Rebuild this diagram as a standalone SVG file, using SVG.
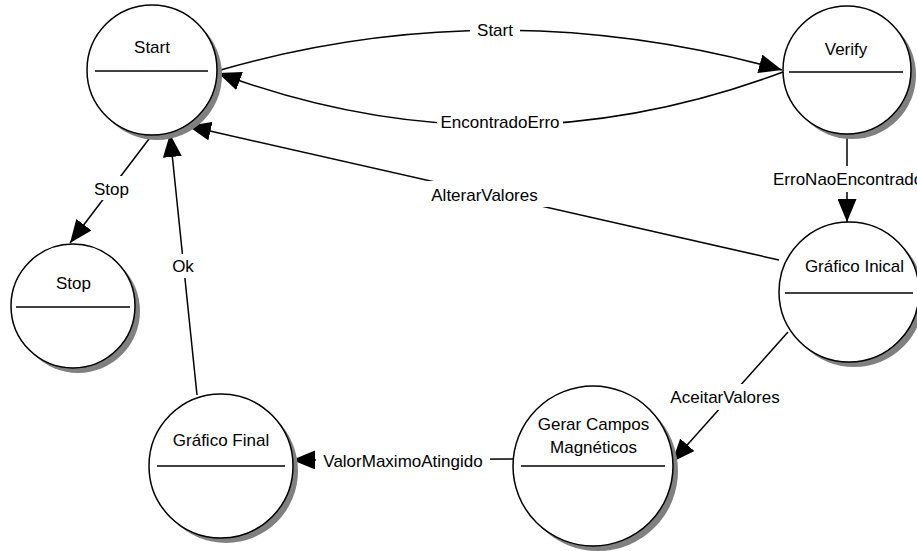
<svg xmlns="http://www.w3.org/2000/svg" width="917" height="551" viewBox="0 0 917 551">
<style>
text{font-family:"Liberation Sans",Arial,sans-serif;font-size:17px;fill:#000}
.c{text-anchor:middle}
.sh{fill:#808080;stroke:none}
.nd{fill:#fff;stroke:#000;stroke-width:1.5}
.dv{stroke:#000;stroke-width:1.5}
.ln{fill:none;stroke:#000;stroke-width:1.5}
.bg{fill:#fff;stroke:none}
</style>
<defs>
<marker id="ah" markerUnits="userSpaceOnUse" markerWidth="25" markerHeight="19" refX="23" refY="9.5" orient="auto">
<path d="M0,0 L23,9.5 L0,19 z" fill="#000"/>
</marker>
</defs>
<rect width="917" height="551" fill="#fff"/>
<g id="connectors">
<path class="ln" d="M217,71 Q495,-10 782,70" marker-end="url(#ah)"/>
<path class="ln" d="M783,72 Q500,178 218,73" marker-end="url(#ah)"/>
<path class="ln" d="M847,134 L847,222" marker-end="url(#ah)"/>
<path class="ln" d="M779,260 L188,126" marker-end="url(#ah)"/>
<path class="ln" d="M152,135 L70,243" marker-end="url(#ah)"/>
<path class="ln" d="M197,395 L170,134" marker-end="url(#ah)"/>
<path class="ln" d="M788,332 L672,462" marker-end="url(#ah)"/>
<path class="ln" d="M513,459 L292,460" marker-end="url(#ah)"/>
<rect class="bg" x="470" y="19" width="50" height="22"/>
<text class="c" x="495" y="36">Start</text>
<rect class="bg" x="437" y="112" width="126" height="22"/>
<text class="c" x="500" y="128">EncontradoErro</text>
<rect class="bg" x="422" y="181" width="126" height="26"/>
<text class="c" x="484.5" y="201">AlterarValores</text>
<rect class="bg" x="768" y="166" width="149" height="26"/>
<text x="773" y="185">ErroNaoEncontrado</text>
<rect class="bg" x="90" y="176" width="43" height="24"/>
<text class="c" x="111.5" y="195">Stop</text>
<rect class="bg" x="168" y="254" width="30" height="24"/>
<text class="c" x="183" y="272">Ok</text>
<rect class="bg" x="668" y="384" width="114" height="26"/>
<text class="c" x="725" y="403">AceitarValores</text>
<rect class="bg" x="316" y="448" width="174" height="24"/>
<text class="c" x="403" y="467">ValorMaximoAtingido</text>
</g>
<g id="node-start">
<circle class="sh" cx="157" cy="75" r="65"/>
<circle class="nd" cx="152" cy="70" r="65"/>
<line class="dv" x1="95" y1="71" x2="208" y2="71"/>
<text class="c" x="152" y="53">Start</text>
</g>
<g id="node-verify">
<circle class="sh" cx="852" cy="75" r="64"/>
<circle class="nd" cx="847" cy="70" r="64"/>
<line class="dv" x1="789" y1="72" x2="903" y2="72"/>
<text class="c" x="846" y="55">Verify</text>
</g>
<g id="node-stop">
<circle class="sh" cx="78" cy="311" r="62"/>
<circle class="nd" cx="73" cy="306" r="62"/>
<line class="dv" x1="16" y1="307" x2="130" y2="307"/>
<text class="c" x="73.5" y="289">Stop</text>
</g>
<g id="node-grafico-inicial">
<circle class="sh" cx="854" cy="297" r="70"/>
<circle class="nd" cx="849" cy="292" r="70"/>
<line class="dv" x1="785" y1="293" x2="913" y2="293"/>
<text class="c" x="854.5" y="272">Gráfico Inical</text>
</g>
<g id="node-grafico-final">
<circle class="sh" cx="226" cy="471" r="72"/>
<circle class="nd" cx="221" cy="466" r="72"/>
<line class="dv" x1="157" y1="466" x2="285" y2="466"/>
<text class="c" x="221" y="446">Gráfico Final</text>
</g>
<g id="node-gerar-campos">
<circle class="sh" cx="598" cy="471" r="80"/>
<circle class="nd" cx="593" cy="466" r="80"/>
<line class="dv" x1="521" y1="466" x2="665" y2="466"/>
<text class="c" x="593.5" y="430">Gerar Campos</text>
<text class="c" x="593.5" y="453">Magnéticos</text>
</g>
</svg>
